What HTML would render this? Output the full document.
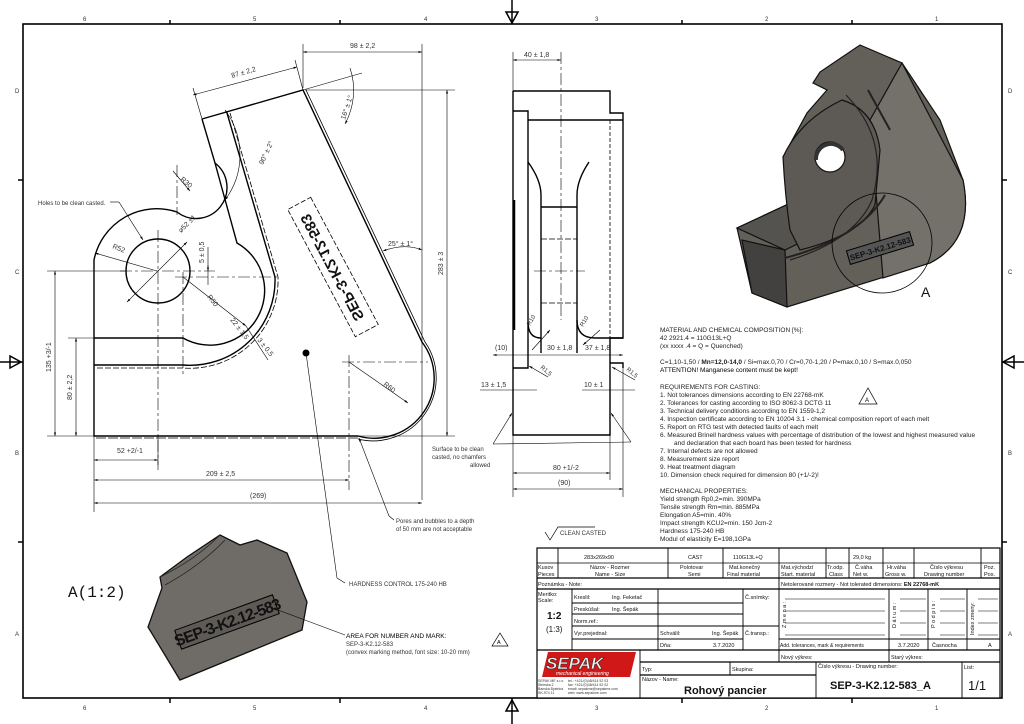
<!DOCTYPE html>
<html><head><meta charset="utf-8"><style>
html,body{margin:0;padding:0;background:#fff;}
svg{display:block;font-family:"Liberation Sans",sans-serif;}
.t{font-size:6.5px;fill:#222}
.s{font-size:6px;fill:#333}
.n{font-size:7px;fill:#333}
</style></head><body>
<svg width="1024" height="724" viewBox="0 0 1024 724" xmlns="http://www.w3.org/2000/svg">
<defs>
<marker id="a" viewBox="0 0 10 10" refX="10" refY="5" markerWidth="6" markerHeight="6" orient="auto-start-reverse"><path d="M0,2 L10,5 L0,8 z" fill="#000"/></marker>
</defs>
<rect width="1024" height="724" fill="#fff"/>
<rect x="23" y="24" width="979" height="674" fill="none" stroke="#000" stroke-width="1.6"/>
<g stroke="#000" stroke-width="1.5">
<line x1="170" y1="20" x2="170" y2="24"/><line x1="340" y1="20" x2="340" y2="24"/><line x1="682" y1="20" x2="682" y2="24"/><line x1="852" y1="20" x2="852" y2="24"/>
<line x1="170" y1="698" x2="170" y2="703"/><line x1="340" y1="698" x2="340" y2="703"/><line x1="682" y1="698" x2="682" y2="703"/><line x1="852" y1="698" x2="852" y2="703"/>
<line x1="18" y1="180" x2="23" y2="180"/><line x1="18" y1="542" x2="23" y2="542"/><line x1="1002" y1="180" x2="1007" y2="180"/><line x1="1002" y1="542" x2="1007" y2="542"/>
<line x1="512" y1="0" x2="512" y2="24"/><line x1="512" y1="698" x2="512" y2="724"/>
<line x1="0" y1="362" x2="23" y2="362"/><line x1="1002" y1="362" x2="1024" y2="362"/>
</g>
<g fill="none" stroke="#000" stroke-width="1.5">
<path d="M506,12 L518,12 L512,23 z"/><path d="M506,711 L518,711 L512,700 z"/>
<path d="M10,356 L10,368 L21,362 z"/><path d="M1014,356 L1014,368 L1003,362 z"/>
</g>
<g class="s" fill="#777">
<text x="83" y="21">6</text><text x="253" y="21">5</text><text x="424" y="21">4</text><text x="595" y="21">3</text><text x="765" y="21">2</text><text x="935" y="21">1</text>
<text x="83" y="710">6</text><text x="253" y="710">5</text><text x="424" y="710">4</text><text x="595" y="710">3</text><text x="765" y="710">2</text><text x="935" y="710">1</text>
<text x="15" y="93">D</text><text x="15" y="274">C</text><text x="15" y="455">B</text><text x="15" y="636">A</text>
<text x="1008" y="93">D</text><text x="1008" y="274">C</text><text x="1008" y="455">B</text><text x="1008" y="636">A</text>
</g>

<g fill="none" stroke="#000" stroke-width="1.4">
<path d="M202,119 L303,90 L422,342 A60,60 0 0 1 358,436 L94,436 L94,260 A64,64 0 0 1 177,212 A18,18 0 0 0 215,163 L202,119"/>
<path d="M215,163 L237,243 A50,50 0 0 1 183,338 L94,338"/>
<path d="M94,365 L183,365 A85,85 0 0 0 275,277 L227,113"/>
<path d="M97,368 L183,368 A88,88 0 0 0 278,277 L230,113" stroke-dasharray="6,2" stroke-width="0.8"/>
<path d="M306,90 L425,342 A63,63 0 0 1 358,439" stroke-width="0.8"/>
<circle cx="158" cy="271" r="32"/>
<path d="M96,438 L358,438" stroke-width="0.8" stroke-dasharray="10,2"/>
</g>
<g stroke="#000" stroke-width="0.6" fill="none" stroke-dasharray="12,3,3,3">
<line x1="158" y1="230" x2="158" y2="470"/><line x1="120" y1="271" x2="215" y2="271"/>
<line x1="175" y1="277" x2="280" y2="277"/><line x1="183" y1="272" x2="183" y2="375"/>
<line x1="349" y1="355" x2="349" y2="490"/><line x1="342" y1="362" x2="428" y2="362"/>
<line x1="177" y1="165" x2="177" y2="215"/>
</g>
<g transform="translate(333,267) rotate(62)">
<rect x="-72" y="-13" width="144" height="26" fill="none" stroke="#000" stroke-width="0.8" stroke-dasharray="5,2"/>
<text x="0" y="6" text-anchor="middle" font-size="15" font-weight="bold" fill="#111" transform="scale(-1,1)">SEP-3-K2.12-583</text>
</g>
<circle cx="306" cy="353" r="3.5" fill="#000"/>
<g stroke="#000" stroke-width="0.6" fill="none">
<line x1="303" y1="44" x2="303" y2="88"/><line x1="422" y1="44" x2="422" y2="500"/>
<line x1="303" y1="52" x2="422" y2="52" marker-start="url(#a)" marker-end="url(#a)"/>
<line x1="193" y1="95" x2="297" y2="67" marker-start="url(#a)" marker-end="url(#a)"/>
<line x1="193" y1="88" x2="202" y2="119"/><line x1="295" y1="60" x2="303" y2="90"/>
<line x1="305" y1="90" x2="455" y2="90"/><line x1="345" y1="436" x2="455" y2="436"/>
<line x1="447" y1="90" x2="447" y2="436" marker-start="url(#a)" marker-end="url(#a)"/>
<line x1="47" y1="271" x2="125" y2="271"/><line x1="68" y1="338" x2="94" y2="338"/><line x1="47" y1="436" x2="94" y2="436"/>
<line x1="55" y1="271" x2="55" y2="436" marker-start="url(#a)" marker-end="url(#a)"/>
<line x1="76" y1="338" x2="76" y2="436" marker-start="url(#a)" marker-end="url(#a)"/>
<line x1="94" y1="436" x2="94" y2="512"/><line x1="158" y1="436" x2="158" y2="465"/>
<line x1="94" y1="460" x2="158" y2="460" marker-start="url(#a)" marker-end="url(#a)"/>
<line x1="94" y1="480" x2="349" y2="480" marker-start="url(#a)" marker-end="url(#a)"/>
<line x1="94" y1="503" x2="422" y2="503" marker-start="url(#a)" marker-end="url(#a)"/>
<path d="M225,110 A75,75 0 0 1 225,200" marker-start="url(#a)" marker-end="url(#a)"/>
<path d="M350,68 A70,70 0 0 1 345,124" marker-end="url(#a)"/>
<line x1="303" y1="90" x2="362" y2="73"/>
<path d="M383,251 Q405,243 422,250" marker-start="url(#a)" marker-end="url(#a)"/>
<line x1="127" y1="302" x2="187" y2="242" marker-start="url(#a)" marker-end="url(#a)"/>
<line x1="95" y1="253" x2="157" y2="271" marker-start="url(#a)"/>
<line x1="183" y1="277" x2="246" y2="326" marker-end="url(#a)"/>
<line x1="246" y1="326" x2="268" y2="360"/>
<line x1="173" y1="171" x2="190" y2="191" marker-end="url(#a)"/>
<line x1="349" y1="362" x2="408" y2="403" marker-end="url(#a)"/>
<line x1="208" y1="247" x2="208" y2="285"/><line x1="208" y1="265" x2="208" y2="271" marker-end="url(#a)"/>
<line x1="110" y1="202" x2="119" y2="202"/><line x1="119" y1="202" x2="143" y2="240" marker-end="url(#a)"/>
<line x1="306" y1="353" x2="337" y2="578"/><line x1="337" y1="578" x2="345" y2="583"/>
<line x1="389" y1="516" x2="359" y2="438" marker-end="url(#a)"/><line x1="389" y1="516" x2="394" y2="520"/>
</g>
<g class="n">
<text x="350" y="48">98 ± 2,2</text>
<text transform="translate(232,78) rotate(-16)">87 ± 2,2</text>
<text transform="translate(345,120) rotate(-72)">16° ± 1°</text>
<text transform="translate(263,165) rotate(-65)">90° ± 2°</text>
<text x="388" y="246">25° ± 1°</text>
<text transform="translate(443,275) rotate(-90)">283 ± 3</text>
<text transform="translate(51,372) rotate(-90)">135 +3/-1</text>
<text transform="translate(72,400) rotate(-90)">80 ± 2,2</text>
<text x="117" y="453">52 +2/-1</text>
<text x="206" y="476">209 ± 2,5</text>
<text x="250" y="498">(269)</text>
<text transform="translate(180,180) rotate(40)">R30</text>
<text transform="translate(112,248) rotate(22)">R52</text>
<text transform="translate(181,233) rotate(-45)">⌀52 ±1</text>
<text transform="translate(204,263) rotate(-90)">5 ± 0,5</text>
<text transform="translate(207,297) rotate(52)">R50</text>
<text transform="translate(230,320) rotate(52)">22 ± 1,5</text>
<text transform="translate(257,340) rotate(52)">3 ± 0,5</text>
<text transform="translate(383,385) rotate(38)">R60</text>
<text x="38" y="205" font-size="6">Holes to be clean casted.</text>
<text x="396" y="523" font-size="6">Pores and bubbles to a depth</text>
<text x="396" y="531" font-size="6">of 50 mm are not acceptable</text>
<text x="349" y="586" font-size="6">HARDNESS CONTROL 175-240 HB</text>
<text x="346" y="638" font-size="6.5" fill="#000">AREA FOR NUMBER AND MARK:</text>
<text x="346" y="646" font-size="6">SEP-3-K2.12-583</text>
<text x="346" y="654" font-size="6">(convex marking method, font size: 10-20 mm)</text>
</g>
<path d="M500,633 L492,646 L508,646 z" fill="none" stroke="#000" stroke-width="0.7"/><text x="497" y="644" font-size="5.5">A</text>

<g fill="none" stroke="#000" stroke-width="1.4">
<path d="M513,91 L610,91 L610,113 L623,113 L623,338 L610,338 L610,363 L623,363 L623,368 M513,91 L513,435 L610,435 L610,363"/>
<path d="M513,111 L528,111 L528,368 L513,368"/>
<path d="M528,120 L623,120"/>
<path d="M528,162 Q541,180 541,195 L541,353 M589,162 Q577,180 577,195 L577,353"/>
<path d="M541,207 L577,207"/>
<path d="M528,322 Q528,338 541,338 M577,320 Q577,338 595,338 L623,338"/>
<line x1="610" y1="120" x2="610" y2="363" stroke-width="0.8" stroke-dasharray="4,2"/>
<line x1="514" y1="200" x2="514" y2="330" stroke-width="2.5"/>
</g>
<g stroke="#000" stroke-width="0.8" fill="none" stroke-dasharray="6,2">
<line x1="541" y1="239" x2="577" y2="239"/><line x1="541" y1="303" x2="577" y2="303"/>
<line x1="561" y1="52" x2="561" y2="320" stroke-dasharray="12,3,3,3" stroke-width="0.6"/>
<line x1="534" y1="271" x2="585" y2="271" stroke-dasharray="12,3,3,3" stroke-width="0.6"/>
</g>
<g stroke="#000" stroke-width="0.6" fill="none">
<line x1="513" y1="52" x2="513" y2="91"/><line x1="513" y1="60" x2="561" y2="60" marker-start="url(#a)" marker-end="url(#a)"/>
<line x1="493" y1="355" x2="623" y2="355" marker-start="url(#a)" marker-end="url(#a)"/>
<line x1="480" y1="390" x2="537" y2="390"/><line x1="582" y1="390" x2="635" y2="390"/>
<line x1="513" y1="435" x2="513" y2="497"/><line x1="610" y1="435" x2="610" y2="480"/><line x1="623" y1="368" x2="623" y2="497"/>
<line x1="513" y1="473" x2="610" y2="473" marker-start="url(#a)" marker-end="url(#a)"/>
<line x1="513" y1="489" x2="623" y2="489" marker-start="url(#a)" marker-end="url(#a)"/>
<line x1="493" y1="444" x2="631" y2="442"/><line x1="493" y1="444" x2="512" y2="413" marker-end="url(#a)"/><line x1="631" y1="442" x2="611" y2="413" marker-end="url(#a)"/>
<line x1="532" y1="350" x2="550" y2="330" marker-end="url(#a)"/><line x1="600" y1="330" x2="583" y2="345" marker-end="url(#a)"/>
<line x1="548" y1="377" x2="529" y2="366" marker-end="url(#a)"/><line x1="635" y1="380" x2="612" y2="367" marker-end="url(#a)"/>
</g>
<g class="n">
<text x="524" y="57">40 ± 1,8</text>
<text x="495" y="350">(10)</text><text x="547" y="350">30 ± 1,8</text><text x="585" y="350">37 ± 1,8</text>
<text x="481" y="387">13 ± 1,5</text><text x="584" y="387">10 ± 1</text>
<text x="553" y="470">80 +1/-2</text><text x="558" y="485">(90)</text>
<text transform="translate(530,326) rotate(-60)" font-size="6">R10</text>
<text transform="translate(583,327) rotate(-60)" font-size="6">R10</text>
<text transform="translate(540,368) rotate(40)" font-size="6">R1,5</text>
<text transform="translate(626,370) rotate(40)" font-size="6">R1,5</text>
<text x="432" y="451" font-size="6">Surface to be clean</text><text x="432" y="459" font-size="6">casted, no chamfers</text><text x="470" y="467" font-size="6">allowed</text>
<text x="560" y="535" font-size="6">CLEAN CASTED</text>
</g>
<path d="M545,532 L550,540 L558,527 L595,527" fill="none" stroke="#000" stroke-width="0.7"/>

<g stroke="#111" stroke-width="1.2">
<path d="M860,45 L902,63 L940,120 L963,180 Q975,240 930,263 L787,307 L752,293 L737,228 L797,200 L783,157 L807,113 L827,90 L813,83 L820,72 Z" fill="#636059"/>
<path d="M902,63 L963,180 Q975,240 930,263 L883,278 L870,120 Z" fill="#74716b"/>
<path d="M737,228 L797,200 L830,228 L785,250 Z" fill="#55534f"/>
<path d="M752,293 L742,240 L785,250 L787,307 Z" fill="#434140"/>
<path d="M783,157 Q800,120 842,100 Q875,110 880,150 L875,205 Q860,235 800,250 L790,230 Q785,195 783,157 Z" fill="#5d5a55"/>
<path d="M846,95 Q890,140 872,200 Q855,240 790,260" fill="none" stroke="#222"/>
<path d="M868,90 L890,130" fill="none" stroke="#222" stroke-width="2"/>
<circle cx="830" cy="157" r="15" fill="#fff"/>
<path d="M816,160 A15,15 0 0 1 843,150" fill="none" stroke="#333" stroke-width="4"/>
<path d="M785,258 Q860,238 885,195" fill="none" stroke="#222" stroke-width="2"/>
</g>
<g transform="translate(880,248) rotate(-17)"><rect x="-33" y="-7" width="66" height="14" fill="#555" stroke="#000"/><text x="0" y="3.5" font-size="8" font-weight="bold" text-anchor="middle" fill="#111">SEP-3-K2.12-583</text></g>
<circle cx="882" cy="243" r="50" fill="none" stroke="#000" stroke-width="0.8"/>
<text x="921" y="297" font-size="14" fill="#111">A</text>

<path d="M160,577 L187,557 L220,535 L240,545 L257,540 L287,553 L307,602 L302,630 L180,680 L148,627 L162,588 Z" fill="#6f6c67" stroke="#111" stroke-width="1.3"/>
<path d="M160,577 Q195,560 220,535 M165,585 Q200,566 225,540" fill="none" stroke="#222" stroke-width="0.8"/>
<g transform="translate(227,622) rotate(-20)"><rect x="-52" y="-10" width="104" height="20" fill="#5e5b57" stroke="#000"/><text x="0" y="6" font-size="16" font-weight="bold" text-anchor="middle" fill="#111" letter-spacing="-1">SEP-3-K2.12-583</text></g>
<line x1="278" y1="610" x2="345" y2="635" stroke="#000" stroke-width="0.6"/>
<text x="68" y="597" font-size="16" font-family="Liberation Mono, monospace" fill="#111">A(1:2)</text>

<g class="t">
<text x="660" y="332">MATERIAL AND CHEMICAL COMPOSITION [%]:</text>
<text x="660" y="340">42 2921.4 = 110G13L+Q</text>
<text x="660" y="348">(xx xxxx .4 = Q = Quenched)</text>
<text x="660" y="364">C=1,10-1,50 / <tspan font-weight="bold">Mn=12,0-14,0</tspan> / Si=max.0,70 / Cr=0,70-1,20 / P=max.0,10 / S=max.0,050</text>
<text x="660" y="372" fill="#000">ATTENTION! Manganese content must be kept!</text>
<text x="660" y="389">REQUIREMENTS FOR CASTING:</text>
<text x="660" y="397">1.    Not tolerances dimensions according to EN 22768-mK</text>
<text x="660" y="405">2.    Tolerances for casting according to ISO 8062-3 DCTG 11</text>
<text x="660" y="413">3.    Technical delivery conditions according to EN 1559-1,2</text>
<text x="660" y="421">4.    Inspection certificate according to EN 10204 3.1 - chemical composition report of each melt</text>
<text x="660" y="429">5.    Report on RTG test with detected faults of each melt</text>
<text x="660" y="437">6.    Measured Brinell hardness values with percentage of distribution of the lowest and highest measured value</text>
<text x="674" y="445">and declaration that each board has been tested for hardness</text>
<text x="660" y="453">7.    Internal defects are not allowed</text>
<text x="660" y="461">8.    Measurement size report</text>
<text x="660" y="469">9.    Heat treatment diagram</text>
<text x="660" y="477">10.  Dimension check required for dimension 80 (+1/-2)!</text>
<text x="660" y="493">MECHANICAL PROPERTIES:</text>
<text x="660" y="501">Yield strength Rp0,2=min. 390MPa</text>
<text x="660" y="509">Tensile strength Rm=min. 885MPa</text>
<text x="660" y="517">Elongation A5=min. 40%</text>
<text x="660" y="525">Impact strength KCU2=min. 150 Jcm-2</text>
<text x="660" y="533">Hardness 175-240 HB</text>
<text x="660" y="541">Modul of elasticity E=198,1GPa</text>
</g>
<path d="M868,388 L859,404 L877,404 z" fill="none" stroke="#000" stroke-width="0.7"/><text x="865" y="402" font-size="6">A</text>

<g stroke="#000" stroke-width="1.2" fill="none">
<rect x="537" y="548" width="463" height="150" fill="#fff"/>
<line x1="537" y1="563" x2="1000" y2="563" stroke-width="0.8"/>
<line x1="537" y1="578" x2="1000" y2="578"/>
<line x1="537" y1="589" x2="1000" y2="589"/>
<line x1="537" y1="650" x2="1000" y2="650"/>
<line x1="640" y1="662" x2="1000" y2="662"/>
<line x1="640" y1="675" x2="816" y2="675"/>
<g stroke-width="0.9">
<line x1="558" y1="548" x2="558" y2="578"/><line x1="668" y1="548" x2="668" y2="578"/><line x1="723" y1="548" x2="723" y2="578"/><line x1="779" y1="548" x2="779" y2="578"/><line x1="826" y1="548" x2="826" y2="578"/><line x1="849" y1="548" x2="849" y2="578"/><line x1="883" y1="548" x2="883" y2="578"/><line x1="914" y1="548" x2="914" y2="578"/><line x1="981" y1="548" x2="981" y2="578"/>
<line x1="779" y1="578" x2="779" y2="662"/>
<line x1="572" y1="589" x2="572" y2="650"/>
<line x1="658" y1="589" x2="658" y2="650"/>
<line x1="743" y1="589" x2="743" y2="650"/>
<line x1="572" y1="603" x2="743" y2="603"/><line x1="572" y1="614" x2="743" y2="614"/><line x1="572" y1="626" x2="743" y2="626"/><line x1="572" y1="639" x2="743" y2="639"/>
<line x1="743" y1="626" x2="779" y2="626"/>
<line x1="889" y1="589" x2="889" y2="662"/><line x1="928" y1="589" x2="928" y2="650"/><line x1="967" y1="589" x2="967" y2="650"/>
<line x1="779" y1="639" x2="1000" y2="639"/>
<line x1="640" y1="650" x2="640" y2="698"/>
<line x1="730" y1="662" x2="730" y2="675"/><line x1="816" y1="662" x2="816" y2="698"/><line x1="962" y1="662" x2="962" y2="698"/>
</g>
<g stroke-width="0.6">
<line x1="785" y1="599" x2="885" y2="599"/><line x1="785" y1="611" x2="885" y2="611"/><line x1="785" y1="623" x2="885" y2="623"/><line x1="785" y1="635" x2="885" y2="635"/>
<line x1="900" y1="599" x2="926" y2="599"/><line x1="900" y1="611" x2="926" y2="611"/><line x1="900" y1="623" x2="926" y2="623"/><line x1="900" y1="635" x2="926" y2="635"/>
<line x1="940" y1="599" x2="965" y2="599"/><line x1="940" y1="611" x2="965" y2="611"/><line x1="940" y1="623" x2="965" y2="623"/><line x1="940" y1="635" x2="965" y2="635"/>
<line x1="978" y1="599" x2="998" y2="599"/><line x1="978" y1="611" x2="998" y2="611"/><line x1="978" y1="623" x2="998" y2="623"/><line x1="978" y1="635" x2="998" y2="635"/>
</g>
</g>
<g font-size="5.5" fill="#111">
<text x="584" y="559">283x269x90</text><text x="688" y="559">CAST</text><text x="733" y="559">110G13L+Q</text><text x="853" y="559">29,0 kg</text>
<text x="538" y="569">Kusov</text><text x="538" y="576">Pieces</text>
<text x="590" y="569">Názov - Rozmer</text><text x="595" y="576">Name - Size</text>
<text x="680" y="569">Polotovar</text><text x="688" y="576">Semi</text>
<text x="729" y="569">Mat.konečný</text><text x="727" y="576">Final material</text>
<text x="781" y="569">Mat.východzí</text><text x="781" y="576">Start. material</text>
<text x="827" y="569">Tr.odp.</text><text x="829" y="576">Class</text>
<text x="855" y="569">Č.váha</text><text x="853" y="576">Net w.</text>
<text x="887" y="569">Hr.váha</text><text x="885" y="576">Gross w.</text>
<text x="930" y="569">Číslo výkresu</text><text x="924" y="576">Drawing number</text>
<text x="984" y="569">Poz.</text><text x="984" y="576">Pos.</text>
<text x="538" y="586">Poznámka - Note:</text>
<text x="781" y="586">Netolerované rozmery - Not tolerated dimensions: <tspan font-weight="bold">EN 22768-mK</tspan></text>
<text x="538" y="596">Meritko:</text><text x="538" y="602">Scale:</text>
<text x="547" y="619" font-size="10" font-weight="bold">1:2</text><text x="546" y="632" font-size="8">(1:3)</text>
<text x="574" y="599">Kreslil:</text><text x="612" y="599">Ing. Feketač</text>
<text x="574" y="611">Preskúšal:</text><text x="612" y="611">Ing. Šepák</text>
<text x="574" y="623">Norm.ref.:</text>
<text x="574" y="635">Vyr.prejednal:</text>
<text x="660" y="635">Schválil:</text><text x="712" y="635">Ing. Šepák</text>
<text x="660" y="647">Dňa:</text><text x="713" y="647">3.7.2020</text>
<text x="745" y="599">Č.snímky:</text><text x="745" y="635">Č.transp.:</text>
<text transform="translate(786,628) rotate(-90)">Z m e n a :</text>
<text transform="translate(896,628) rotate(-90)">D á t u m :</text>
<text transform="translate(935,628) rotate(-90)">P o d p i s :</text>
<text transform="translate(974,635) rotate(-90)">Index zmeny:</text>
<text x="780" y="647" font-size="5">Add. tolerances, mark &amp; requirements</text>
<text x="898" y="647">3.7.2020</text><text x="932" y="647">Časnocha</text><text x="988" y="647">A</text>
<text x="781" y="659">Nový výkres:</text><text x="891" y="659">Starý výkres:</text>
<text x="642" y="671">Typ:</text><text x="732" y="671">Skupina:</text>
<text x="818" y="668">Číslo výkresu - Drawing number:</text><text x="964" y="669">List:</text>
<text x="642" y="681">Názov - Name:</text>
<text x="684" y="694" font-size="11" font-weight="bold">Rohový pancier</text>
<text x="830" y="689" font-size="11" font-weight="bold">SEP-3-K2.12-583_A</text>
<text x="968" y="690" font-size="13">1/1</text>
</g>
<path d="M548,652 L636,652 L630,677 L542,677 Z" fill="#d01818"/>
<text x="546" y="669" font-size="17" font-weight="bold" font-style="italic" fill="#eee" stroke="#222" stroke-width="0.5">SEPAK</text>
<text x="556" y="675" font-size="5" font-style="italic" fill="#fff">mechanical engineering</text>
<g font-size="3.5" fill="#333">
<text x="538" y="682">SEPAK ME s.r.o.</text><text x="538" y="686">Strieska 2</text><text x="538" y="690">Banská Bystrica</text><text x="538" y="694">SK-974 11</text>
<text x="568" y="682">tel.:   +421/(0)48/414 52 03</text><text x="568" y="686">fax:   +421/(0)48/414 52 02</text><text x="568" y="690">email: sepakme@sepakme.com</text><text x="568" y="694">web:  www.sepakme.com</text>
</g>
</svg>
</body></html>
